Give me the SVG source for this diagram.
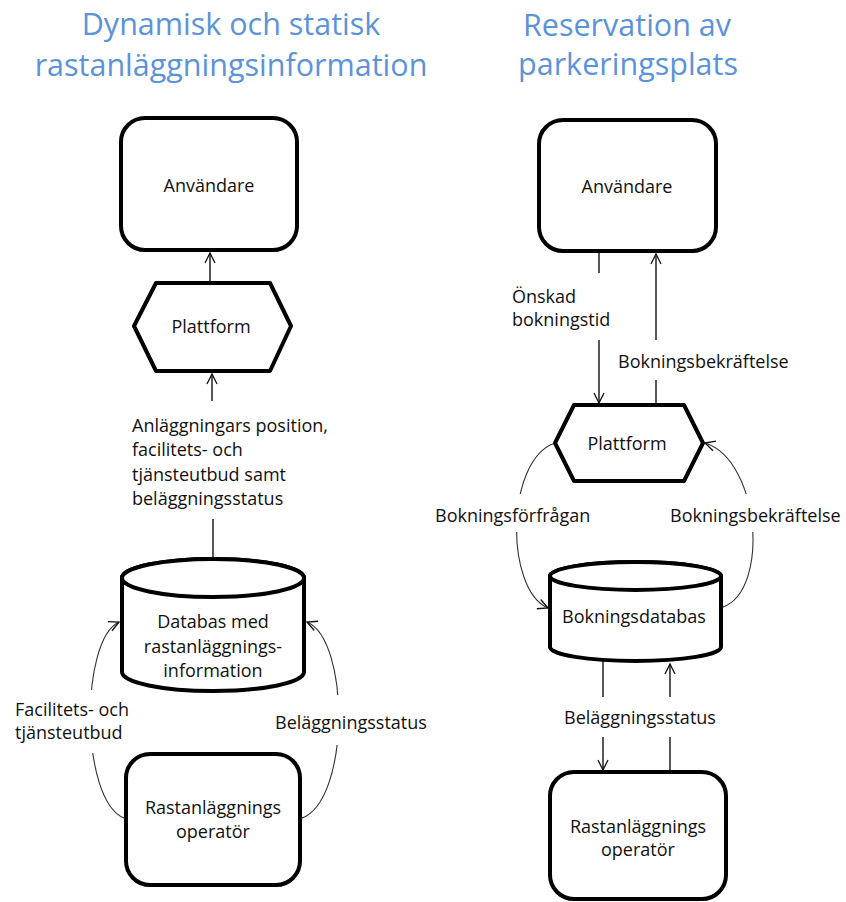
<svg xmlns="http://www.w3.org/2000/svg" width="846" height="902" viewBox="0 0 846 902">
<defs>
<style>
.node{fill:#fff;stroke:#000;stroke-width:4;stroke-linejoin:round}
.t{font-family:"Open Sans","Liberation Sans",sans-serif;font-size:18px;fill:#111}
.c{text-anchor:middle}
.title{font-family:"Open Sans","Liberation Sans",sans-serif;font-size:30.5px;fill:#5B93D9;text-anchor:middle}
.ln{fill:none;stroke:#111;stroke-width:1.4}
.cv{fill:none;stroke:#333;stroke-width:1.1}
</style>
<marker id="ah" viewBox="-12 -7 14 14" refX="0" refY="0" markerWidth="14" markerHeight="14" markerUnits="userSpaceOnUse" orient="auto">
<path d="M-10,-5 L0,0 L-10,5" fill="none" stroke="#111" stroke-width="1.3"/>
</marker>
<mask id="gaps" maskUnits="userSpaceOnUse" x="0" y="0" width="846" height="902">
<rect x="0" y="0" width="846" height="902" fill="#fff"/>
<rect x="60" y="690" width="55" height="63" fill="#000"/>
<rect x="315" y="695" width="50" height="50" fill="#000"/>
<rect x="495" y="494" width="40" height="38" fill="#000"/>
<rect x="735" y="494" width="40" height="38" fill="#000"/>
</mask>
</defs>
<rect width="846" height="902" fill="#fff"/>

<g id="titles">
<text class="title" x="231" y="35">Dynamisk och statisk</text>
<text class="title" x="231" y="76">rastanläggningsinformation</text>
<text class="title" x="627" y="36">Reservation av</text>
<text class="title" x="628" y="75">parkeringsplats</text>
</g>

<g id="connectors">
<!-- left diagram -->
<line class="ln" x1="210" y1="281" x2="210" y2="253" marker-end="url(#ah)"/>
<line class="ln" x1="212" y1="401" x2="212" y2="374" marker-end="url(#ah)"/>
<line class="ln" x1="213" y1="519" x2="213" y2="557"/>
<g mask="url(#gaps)">
<path class="cv" d="M124,818 C80,800 80,640 119,622" marker-end="url(#ah)"/>
<path class="cv" d="M302,818 C350,800 350,640 307,622" marker-end="url(#ah)"/>
<path class="cv" d="M555,443 C505,460 505,590 548,608" marker-end="url(#ah)"/>
<path class="cv" d="M723,607 C770,590 760,460 705,443" marker-end="url(#ah)"/>
</g>
<!-- right diagram -->
<line class="ln" x1="599" y1="253" x2="599" y2="273"/>
<line class="ln" x1="599" y1="340" x2="599" y2="403" marker-end="url(#ah)"/>
<line class="ln" x1="656" y1="380" x2="656" y2="403"/>
<line class="ln" x1="656" y1="340" x2="656" y2="254" marker-end="url(#ah)"/>
<line class="ln" x1="603" y1="660" x2="603" y2="697"/>
<line class="ln" x1="603" y1="737" x2="603" y2="770" marker-end="url(#ah)"/>
<line class="ln" x1="670" y1="697" x2="670" y2="664" marker-end="url(#ah)"/>
<line class="ln" x1="670" y1="737" x2="670" y2="770"/>
</g>

<g id="labels">
<text class="t" x="132" y="432">Anläggningars position,</text>
<text class="t" x="132" y="456">facilitets- och</text>
<text class="t" x="132" y="481">tjänsteutbud samt</text>
<text class="t" x="132" y="505">beläggningsstatus</text>
<text class="t" x="15" y="716">Facilitets- och</text>
<text class="t" x="15" y="739">tjänsteutbud</text>
<text class="t" x="275" y="729">Beläggningsstatus</text>
<text class="t" x="512" y="303">Önskad</text>
<text class="t" x="512" y="326">bokningstid</text>
<text class="t" x="618" y="368">Bokningsbekräftelse</text>
<text class="t" x="435" y="522">Bokningsförfrågan</text>
<text class="t" x="670" y="522">Bokningsbekräftelse</text>
<text class="t c" x="640" y="724">Beläggningsstatus</text>
</g>

<g id="anvandare-left">
<rect class="node" x="121" y="118" width="176" height="132" rx="24"/>
<text class="t c" x="209" y="192">Användare</text>
</g>
<g id="plattform-left">
<polygon class="node" points="134,326 156,283 270,283 291,326 270,371 156,371"/>
<text class="t c" x="211" y="333">Plattform</text>
</g>
<g id="databas-left">
<path class="node" d="M122,578 L122,672 A91,19 0 0 0 304,672 L304,578 A91,19 0 0 0 122,578 Z"/>
<ellipse class="node" cx="213" cy="578" rx="91" ry="19"/>
<text class="t c" x="213" y="628">Databas med</text>
<text class="t c" x="213" y="653">rastanläggnings-</text>
<text class="t c" x="213" y="677">information</text>
</g>
<g id="operator-left">
<rect class="node" x="126" y="754" width="174" height="131" rx="24"/>
<text class="t c" x="213" y="814">Rastanläggnings</text>
<text class="t c" x="213" y="838">operatör</text>
</g>

<g id="anvandare-right">
<rect class="node" x="539" y="120" width="177" height="131" rx="24"/>
<text class="t c" x="627" y="193">Användare</text>
</g>
<g id="plattform-right">
<polygon class="node" points="555,443 574,405 684,405 703,443 684,481 574,481"/>
<text class="t c" x="627" y="450">Plattform</text>
</g>
<g id="bokningsdatabas">
<path class="node" d="M550,576 L550,647 A85.5,14 0 0 0 721,647 L721,576 A85.5,14 0 0 0 550,576 Z"/>
<ellipse class="node" cx="635.5" cy="576" rx="85.5" ry="14"/>
<text class="t c" x="634" y="623">Bokningsdatabas</text>
</g>
<g id="operator-right">
<rect class="node" x="550" y="772" width="176" height="127" rx="24"/>
<text class="t c" x="638" y="833">Rastanläggnings</text>
<text class="t c" x="638" y="856">operatör</text>
</g>
</svg>
